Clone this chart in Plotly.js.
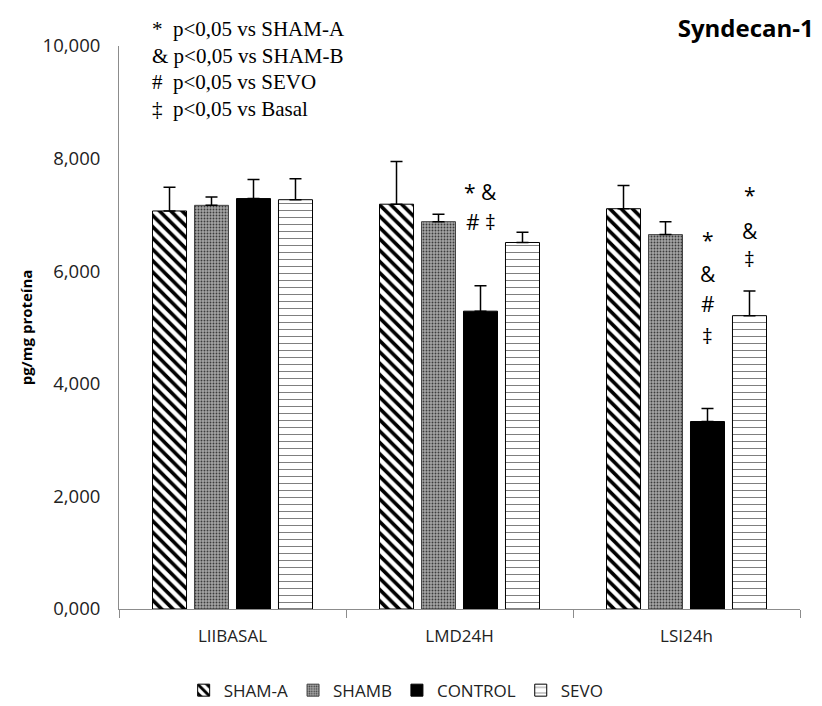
<!DOCTYPE html>
<html>
<head>
<meta charset="utf-8">
<script src="https://cdn.plot.ly/plotly-3.0.1.min.js"></script>
<style>
  html, body { margin: 0; padding: 0; background: #fff; }
  #chart { width: 822px; height: 706px; }
</style>
</head>
<body>
<div id="chart"></div>
<script>
// Syndecan-1 levels (pg/mg proteína) per lobe and group
const categories = ['LIIBASAL', 'LMD24H', 'LSI24h'];
const seriesNames = ['SHAM-A', 'SHAMB', 'CONTROL', 'SEVO'];

const shamA   = [7.07, 7.19, 7.11];
const shamB   = [7.17, 6.88, 6.65];
const control = [7.29, 5.29, 3.33];
const sevo    = [7.27, 6.51, 5.21];

const shamAErr   = [0.42, 0.76, 0.41];
const shamBErr   = [0.15, 0.13, 0.23];
const controlErr = [0.34, 0.45, 0.23];
const sevoErr    = [0.37, 0.18, 0.44];

// significance marks above bars: [category, series index, symbol, y position of symbol]
const sigMarks = [
  ['LMD24H', 2, '* &', 7.40],
  ['LMD24H', 2, '# \u2021', 6.87],
  ['LSI24h', 2, '*', 6.55],
  ['LSI24h', 2, '&', 5.95],
  ['LSI24h', 2, '#', 5.42],
  ['LSI24h', 2, '\u2021', 4.85],
  ['LSI24h', 3, '*', 7.35],
  ['LSI24h', 3, '&', 6.72],
  ['LSI24h', 3, '\u2021', 6.22]
];

const keyLines = [
  '*  p<0,05 vs SHAM-A',
  '& p<0,05 vs SHAM-B',
  '#  p<0,05 vs SEVO',
  '\u2021  p<0,05 vs Basal'
];

const values = [shamA, shamB, control, sevo];
const errors = [shamAErr, shamBErr, controlErr, sevoErr];

const markerStyles = [
  { color: '#ffffff', line: { color: '#000', width: 1 },
    pattern: { shape: '\\', fgcolor: '#000', bgcolor: '#fff', size: 8, solidity: 0.45 } },
  { color: '#8c8c8c', line: { color: '#444', width: 1 },
    pattern: { shape: '.', fgcolor: '#3c3c3c', bgcolor: '#a4a4a4', size: 3, solidity: 0.3 } },
  { color: '#000000', line: { color: '#000', width: 1 } },
  { color: '#ffffff', line: { color: '#000', width: 1 },
    pattern: { shape: '-', fgcolor: '#666', bgcolor: '#fff', size: 7, solidity: 0.12 } }
];

const traces = seriesNames.map((name, i) => ({
  type: 'bar',
  name: name,
  x: categories,
  y: values[i],
  marker: markerStyles[i],
  error_y: {
    type: 'data',
    symmetric: false,
    array: errors[i],
    arrayminus: errors[i].map(() => 0),
    color: '#000',
    thickness: 1.5,
    width: 6
  },
  hoverinfo: 'x+y+name'
}));

// horizontal offset of a bar within its group (pixels)
const slot = 42;
const barOffset = idx => (idx - 1.5) * slot;

const annotations = sigMarks.map(m => ({
  x: m[0], y: m[3], xref: 'x', yref: 'y',
  xshift: barOffset(m[1]),
  text: m[2], showarrow: false,
  xanchor: 'center', yanchor: 'middle',
  font: { family: 'Open Sans', size: 21, color: '#000' }
}));

// significance key, one line per annotation
keyLines.forEach((line, i) => {
  annotations.push({
    xref: 'paper', yref: 'paper',
    x: 0.045, y: 1,
    yshift: 17 - i * 26.5,
    xanchor: 'left', yanchor: 'middle', align: 'left',
    text: line,
    showarrow: false,
    font: { family: 'Liberation Serif', size: 21, color: '#000' }
  });
});

const layout = {
  width: 822, height: 706,
  margin: { l: 119, r: 22, t: 46, b: 97, autoexpand: false },
  paper_bgcolor: '#fff', plot_bgcolor: '#fff',
  separators: ',.',
  barmode: 'group',
  bargap: 0.26,
  bargroupgap: 0.19,
  title: {
    text: '<b>Syndecan-1</b>',
    x: 0.99, xanchor: 'right', xref: 'container',
    y: 0.96, yanchor: 'middle', yref: 'container',
    font: { family: 'Open Sans', size: 24, color: '#000' }
  },
  xaxis: {
    type: 'category',
    showline: true, linecolor: '#8c8c8c', linewidth: 1,
    ticks: 'outside', tickson: 'boundaries', ticklen: 8, tickcolor: '#8c8c8c',
    tickfont: { family: 'Open Sans', size: 17, color: '#222' },
    ticklabelstandoff: 12,
    showgrid: false, zeroline: false
  },
  yaxis: {
    range: [0, 10],
    tickvals: [0, 2, 4, 6, 8, 10],
    tickformat: ',.3f',
    showline: true, linecolor: '#8c8c8c', linewidth: 1,
    ticks: '', showgrid: false, zeroline: false,
    tickfont: { family: 'Open Sans', size: 18.5, color: '#222' },
    ticklabelstandoff: 14,
    title: { text: '<b>pg/mg proteína</b>', standoff: 6,
             font: { family: 'Open Sans', size: 15, color: '#000' } }
  },
  legend: {
    orientation: 'h', x: 0.407, xanchor: 'center', xref: 'paper',
    y: -0.113, yanchor: 'top',
    font: { family: 'Open Sans', size: 17, color: '#222' },
    traceorder: 'normal'
  },
  annotations: annotations,
  showlegend: true
};

Plotly.newPlot('chart', traces, layout, { displayModeBar: false, responsive: false });
</script>
</body>
</html>
